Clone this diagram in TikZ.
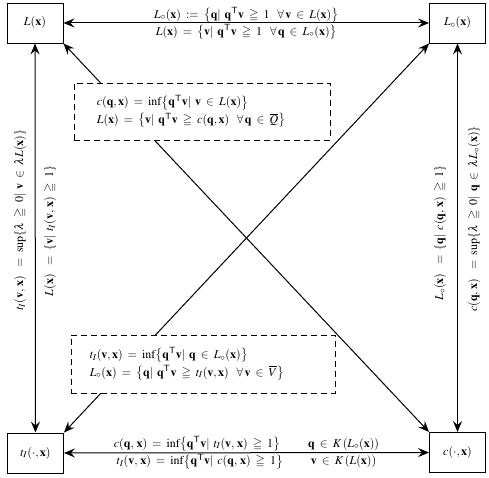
\documentclass[tikz,border=0pt]{standalone}
\usepackage{mathptmx}
\usepackage{amssymb}
\usetikzlibrary{arrows.meta}
\newcommand{\bq}{\mathbf{q}}
\newcommand{\bv}{\mathbf{v}}
\newcommand{\bx}{\mathbf{x}}
\newcommand{\tr}{^{\mathsf{T}}}
\begin{document}
\thickmuskip=7.5mu plus 3mu
\medmuskip=5mu plus 2mu
\begin{tikzpicture}[x=1pt,y=-1pt,
  every node/.style={font=\fontsize{12}{14.5}\selectfont},
  mainbox/.style={draw,line width=0.9pt,minimum width=56pt,minimum height=40pt,inner sep=0pt},
  dbox/.style={draw,dash pattern=on 6pt off 4pt,line width=0.8pt,fill=white,inner sep=0pt},
  arr/.style={line width=1pt,{Stealth[length=11pt,width=9pt,inset=4pt]}-{Stealth[length=11pt,width=9pt,inset=4pt]}},
  lbl/.style={inner sep=1pt}]
\useasboundingbox (0,0) rectangle (489,478);
\node[mainbox] (L)  at (35,23)    {$L(\bx)$};
\node[mainbox] (Lo) at (457.5,23) {$L_\circ(\bx)$};
\node[mainbox] (T)  at (35.5,453) {$t_I(\cdot,\bx)$};
\node[mainbox] (C)  at (457.5,452.5) {$c(\cdot,\bx)$};
% diagonals
\draw[arr] (L.south east) -- (C.north west);
\draw[arr] (T.north east) -- (Lo.south west);
% horizontal
\draw[arr] (L) -- (Lo)
  node[midway,above,inner sep=0.2pt] (ta) {$L_\circ(\bx) := \bigl\{\bq|\ \bq\tr\bv \geqq 1\ \ \forall\,\bv\in L(\bx)\bigr\}$}
  node[lbl,midway,below] (tb) {$L(\bx) = \bigl\{\bv|\ \bq\tr\bv \geqq 1\ \ \forall\,\bq\in L_\circ(\bx)\bigr\}$};
\draw[arr] (T) -- (C)
  node[lbl,midway,above] (ba) {$c(\bq,\,\bx) = \inf\bigl\{\bq\tr\bv|\ t_I(\bv,\,\bx)\geqq 1\bigr\}\qquad\ \bq\in K\,(L_\circ(\bx))$}
  node[lbl,midway,below] (bb) {$t_I(\bv,\,\bx) = \inf\bigl\{\bq\tr\bv|\ c(\bq,\,\bx)\geqq 1\bigr\}\qquad\ \bv\in K\,(L(\bx))$};
% vertical
\draw[arr] (L) -- (T);
\draw[arr] (Lo) -- (C);
\node[lbl,rotate=90] (lo) at (20,220) {$t_I(\bv,\,\bx)\ = \sup\{\lambda\geqq 0|\ \bv\in\lambda L(\bx)\}$};
\node[lbl,rotate=90] (li) at (50,231) {$L(\bx)\ = \{\bv|\ t_I(\bv,\,\bx)\geqq 1\}$};
\node[lbl,rotate=90] (ri) at (440,233) {$L_\circ(\bx)\ = \{\bq|\ c(\bq,\,\bx)\geqq 1\}$};
\node[lbl,rotate=90] (ro) at (474,219) {$c(\bq,\,\bx)\ = \sup\{\lambda\geqq 0|\ \bq\in\lambda L_\circ(\bx)\}$};
% dashed boxes
\node[dbox,minimum width=256pt,minimum height=57pt] (ub) at (202,111.5) {};
\node[inner sep=0pt,align=left,anchor=west] (ubt) at ([xshift=23pt]ub.west)
  {$c(\bq,\bx) = \inf\bigl\{\bq\tr\bv|\ \bv\in L(\bx)\bigr\}$\\[2pt]
   $L(\bx) = \bigl\{\bv|\ \bq\tr\bv \geqq c(\bq,\bx)\ \ \forall\,\bq\in\overline{Q}\bigr\}$};
\node[dbox,minimum width=264pt,minimum height=58pt] (lb) at (203,364) {};
\node[inner sep=0pt,align=left,anchor=west] (lbt) at ([xshift=19pt]lb.west)
  {$t_I(\bv,\bx) = \inf\bigl\{\bq\tr\bv|\ \bq\in L_\circ(\bx)\bigr\}$\\[2pt]
   $L_\circ(\bx) = \bigl\{\bq|\ \bq\tr\bv \geqq t_I(\bv,\bx)\ \ \forall\,\bv\in\overline{V}\bigr\}$};
\end{tikzpicture}
\end{document}
